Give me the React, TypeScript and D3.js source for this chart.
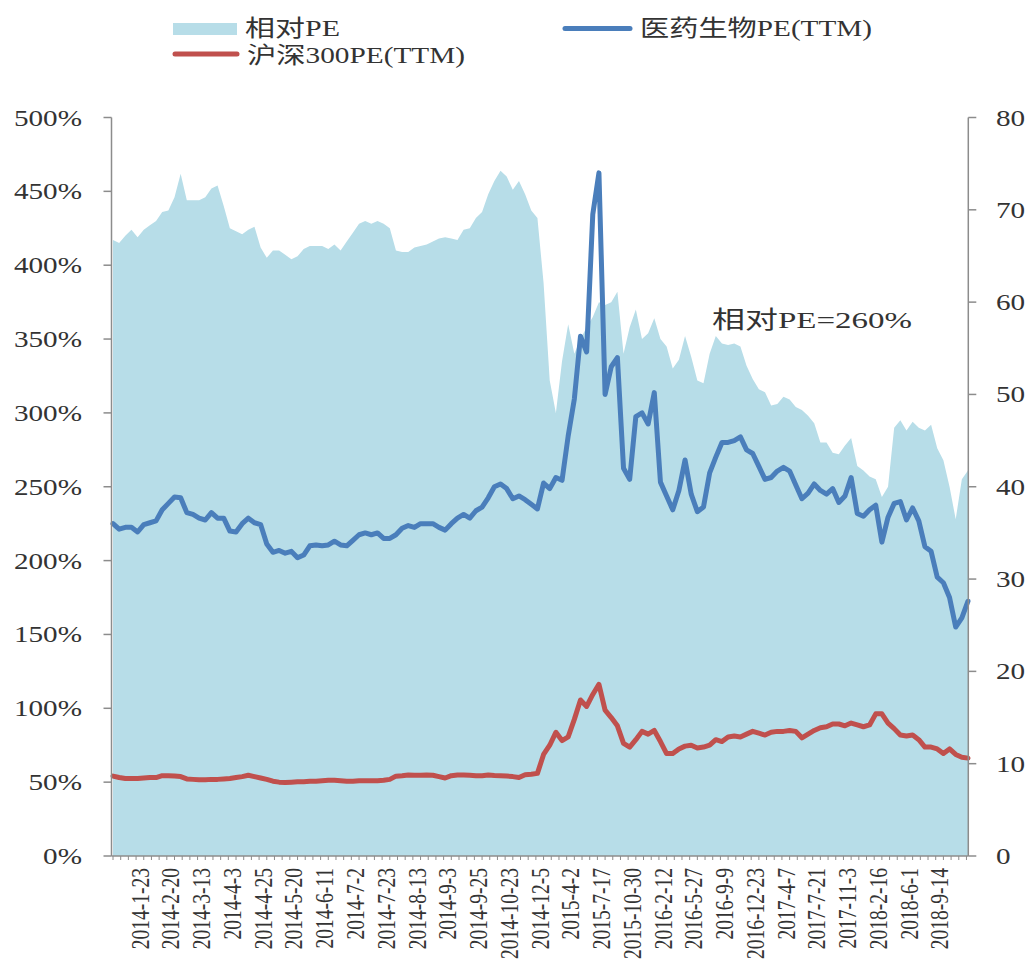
import React from "react";
import * as d3 from "d3";

// 相对PE (%), sampled every STEP categories
const relPE = [
  417, 415, 420, 424, 419, 424, 427, 430, 436, 437,
  446, 462, 444, 444, 444, 446, 452, 454, 440, 425,
  423, 421, 424, 426, 412, 405, 410, 410, 407, 404,
  406, 411, 413, 413, 413, 411, 414, 410, 416, 422,
  428, 430, 428, 430, 428, 425, 410, 409, 409, 412,
  413, 414, 416, 418, 419, 418, 417, 424, 425, 432,
  436, 448, 457, 464, 460, 451, 457, 448, 437, 432,
  388, 322, 300, 335, 360, 340, 350, 358, 365, 375,
  373, 375, 382, 340, 358, 370, 350, 354, 364, 350,
  345, 330, 336, 352, 338, 322, 320, 340, 352, 347,
  346, 347, 345, 332, 323, 316, 314, 305, 306, 311,
  309, 304, 302, 298, 293, 280, 280, 273, 272, 278,
  283, 264, 261, 257, 255, 243, 250, 290, 295, 288,
  294, 290, 288, 292, 276, 268, 250, 228, 255, 261,
];

// 医药生物PE(TTM)
const pharmaPE = [
  36.0, 35.4, 35.6, 35.6, 35.1, 35.9, 36.1, 36.3, 37.5, 38.2,
  38.9, 38.8, 37.2, 37.0, 36.6, 36.4, 37.2, 36.6, 36.6, 35.2,
  35.1, 36.0, 36.6, 36.1, 35.9, 33.8, 32.9, 33.1, 32.8, 33.0,
  32.3, 32.6, 33.6, 33.7, 33.6, 33.7, 34.1, 33.7, 33.6, 34.2,
  34.8, 35.0, 34.8, 35.0, 34.4, 34.4, 34.8, 35.5, 35.8, 35.6,
  36.0, 36.0, 36.0, 35.6, 35.3, 36.0, 36.6, 37.0, 36.6, 37.4,
  37.8, 38.8, 40.0, 40.3, 39.8, 38.7, 39.0, 38.6, 38.1, 37.6,
  40.4, 39.8, 41.0, 40.7, 45.5, 49.5, 56.3, 54.6, 69.5, 74.0,
  50.0, 53.0, 54.0, 42.0, 40.8, 47.6, 48.0, 46.8, 50.2, 40.5,
  39.0, 37.5, 39.6, 42.9, 39.2, 37.3, 37.8, 41.5, 43.2, 44.8,
  44.8, 45.0, 45.4, 44.0, 43.6, 42.2, 40.8, 41.0, 41.7, 42.1,
  41.7, 40.2, 38.7, 39.3, 40.3, 39.6, 39.2, 39.8, 38.3, 39.0,
  41.0, 37.1, 36.8, 37.5, 38.0, 34.0, 36.7, 38.2, 38.4, 36.4,
  37.7, 36.3, 33.5, 33.0, 30.2, 29.6, 28.0, 24.8, 25.8, 27.6,
];

// 沪深300PE(TTM)
const hs300PE = [
  8.66, 8.5, 8.4, 8.4, 8.4, 8.45, 8.5, 8.5, 8.7, 8.7,
  8.66, 8.6, 8.35, 8.3, 8.25, 8.25, 8.3, 8.3, 8.35, 8.4,
  8.5, 8.6, 8.75, 8.6, 8.45, 8.3, 8.1, 8.0, 7.95, 8.0,
  8.05, 8.05, 8.1, 8.1, 8.15, 8.2, 8.2, 8.15, 8.1, 8.1,
  8.15, 8.15, 8.15, 8.15, 8.2, 8.3, 8.65, 8.7, 8.77, 8.75,
  8.75, 8.77, 8.75, 8.6, 8.45, 8.7, 8.77, 8.77, 8.75, 8.7,
  8.7, 8.77, 8.72, 8.7, 8.66, 8.6, 8.5, 8.8, 8.85, 8.95,
  11.0, 12.0, 13.4, 12.5, 12.9, 14.8, 16.9, 16.2, 17.5, 18.6,
  15.8, 15.0, 14.1, 12.2, 11.8, 12.6, 13.5, 13.2, 13.6, 12.4,
  11.1, 11.1, 11.6, 11.9, 12.0, 11.7, 11.8, 12.0, 12.6, 12.4,
  12.9, 13.0, 12.9, 13.2, 13.5, 13.3, 13.1, 13.4, 13.5, 13.5,
  13.6, 13.5, 12.8, 13.2, 13.6, 13.9, 14.0, 14.3, 14.3, 14.1,
  14.4, 14.2, 14.0, 14.2, 15.4, 15.4, 14.4, 13.8, 13.1, 13.0,
  13.1, 12.6, 11.8, 11.8, 11.6, 11.1, 11.6, 11.0, 10.7, 10.6,
];

const dateLabels = [
  "2014-1-23", "2014-2-20", "2014-3-13", "2014-4-3", "2014-4-25", "2014-5-20",
  "2014-6-11", "2014-7-2", "2014-7-23", "2014-8-13", "2014-9-3", "2014-9-25",
  "2014-10-23", "2014-12-5", "2015-4-2", "2015-7-17", "2015-10-30", "2016-2-12",
  "2016-5-27", "2016-9-9", "2016-12-23", "2017-4-7", "2017-7-21", "2017-11-3",
  "2018-2-16", "2018-6-1", "2018-9-14",
];

const leftTicks = [0, 50, 100, 150, 200, 250, 300, 350, 400, 450, 500];
const rightTicks = [0, 10, 20, 30, 40, 50, 60, 70, 80];

const STEP = 3; // categories per data sample
const CAT_COUNT = 418; // categories 0..417
const LABEL_EVERY = 15;

const SX = 1.27; // horizontal stretch of text in the reference
const FONT = '"Times New Roman", "Liberation Serif", "Noto Sans CJK SC", serif';
const TEXT = "#333333";
const AXIS = "#8c8c8c";

export default function App() {
  const W = 1029;
  const H = 961;
  const x0 = 113;
  const x1 = 968;
  const yTop = 117.5;
  const yBot = 856;
  const axisLX = 111.5;
  const axisRX = 968.3;

  const x = d3.scaleLinear().domain([0, CAT_COUNT - 1]).range([x0, x1]);
  const yL = d3.scaleLinear().domain([0, 500]).range([yBot, yTop]);
  const yR = d3.scaleLinear().domain([0, 80]).range([yBot, yTop]);

  const areaGen = d3
    .area<number>()
    .x((_, i) => x(i * STEP))
    .y0(yBot)
    .y1((d) => yL(d));
  const lineGen = d3
    .line<number>()
    .x((_, i) => x(i * STEP))
    .y((d) => yR(d));

  const minorTicks = d3.range(0, CAT_COUNT, LABEL_EVERY / 4);

  const stretched = (
    key: string,
    tx: number,
    ty: number,
    txt: string,
    size: number,
    anchor: "start" | "end" | "middle" = "start",
    rotate = 0
  ) => (
    <g key={key} transform={`translate(${tx},${ty}) scale(${SX},1)${rotate ? ` rotate(${rotate})` : ""}`}>
      <text
        x={0}
        y={0}
        fontSize={size}
        fontFamily={FONT}
        fill={TEXT}
        textAnchor={anchor}
      >
        {txt}
      </text>
    </g>
  );

  return (
    <svg
      width={W}
      height={H}
      viewBox={`0 0 ${W} ${H}`}
      style={{ position: "absolute", left: 0, top: 0, display: "block", background: "#fff" }}
    >
      {/* area */}
      <path d={areaGen(relPE) || ""} fill="#b7dde8" stroke="none" />

      {/* lines */}
      <path
        d={lineGen(pharmaPE) || ""}
        fill="none"
        stroke="#4a7ebb"
        strokeWidth={5}
        strokeLinejoin="round"
        strokeLinecap="round"
      />
      <path
        d={lineGen(hs300PE) || ""}
        fill="none"
        stroke="#c0504d"
        strokeWidth={5}
        strokeLinejoin="round"
        strokeLinecap="round"
      />

      {/* left axis */}
      <line x1={axisLX} x2={axisLX} y1={yTop} y2={yBot} stroke={AXIS} strokeWidth={1.5} />
      {leftTicks.map((t) => (
        <g key={`lt${t}`}>
          <line x1={axisLX - 8} x2={axisLX} y1={yL(t)} y2={yL(t)} stroke={AXIS} strokeWidth={1.5} />
          {stretched(`ltl${t}`, 82, yL(t) + 8, `${t}%`, 23, "end")}
        </g>
      ))}

      {/* right axis */}
      <line x1={axisRX} x2={axisRX} y1={yTop} y2={yBot} stroke={AXIS} strokeWidth={1.5} />
      {rightTicks.map((t) => (
        <g key={`rt${t}`}>
          <line x1={axisRX} x2={axisRX + 8} y1={yR(t)} y2={yR(t)} stroke={AXIS} strokeWidth={1.5} />
          {stretched(`rtl${t}`, 996, yR(t) + 8, `${t}`, 23, "start")}
        </g>
      ))}

      {/* bottom axis */}
      <line x1={axisLX} x2={axisRX} y1={yBot} y2={yBot} stroke={AXIS} strokeWidth={1.5} />
      {minorTicks.map((c, i) => (
        <line key={`mt${i}`} x1={x(c)} x2={x(c)} y1={yBot} y2={yBot + 4} stroke={AXIS} strokeWidth={1} />
      ))}
      {dateLabels.map((lab, k) => {
        const cx = x(LABEL_EVERY * k + LABEL_EVERY - 1);
        return stretched(`xl${k}`, cx + 7, 868, lab, 19.5, "end", -90);
      })}

      {/* legend */}
      <rect x={173} y={23} width={64} height={12} fill="#b7dde8" />
      <text x={245} y={36} fontSize={23} fontFamily={FONT} fill={TEXT} textLength={95} lengthAdjust="spacingAndGlyphs">
        相对PE
      </text>
      <line x1={565} x2={630} y1={28.5} y2={28.5} stroke="#4a7ebb" strokeWidth={5} strokeLinecap="round" />
      <text x={640} y={36} fontSize={23} fontFamily={FONT} fill={TEXT} textLength={232} lengthAdjust="spacingAndGlyphs">
        医药生物PE(TTM)
      </text>
      <line x1={175} x2={237} y1={54} y2={54} stroke="#c0504d" strokeWidth={5} strokeLinecap="round" />
      <text x={247} y={63} fontSize={23} fontFamily={FONT} fill={TEXT} textLength={218} lengthAdjust="spacingAndGlyphs">
        沪深300PE(TTM)
      </text>

      {/* annotation */}
      <text x={712} y={328} fontSize={24} fontFamily={FONT} fill={TEXT} textLength={200} lengthAdjust="spacingAndGlyphs">
        相对PE=260%
      </text>
    </svg>
  );
}
